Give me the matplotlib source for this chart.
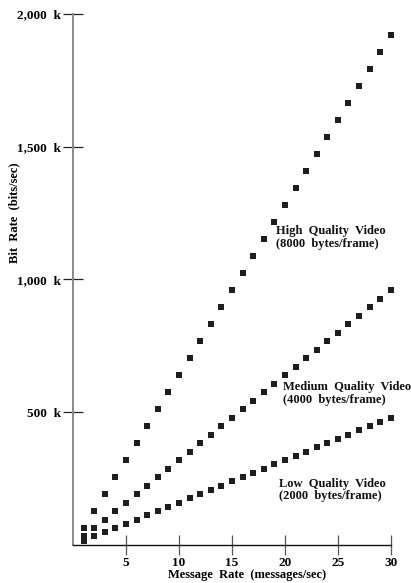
import matplotlib.pyplot as plt
from matplotlib.ticker import FuncFormatter

# message rate (messages/sec)
rate = [1, 2, 3, 4, 5, 6, 7, 8, 9, 10, 11, 12, 13, 14, 15,
        16, 17, 18, 19, 20, 21, 22, 23, 24, 25, 26, 27, 28, 29, 30]

# bit rate in kbits/sec
high_kbps = [64, 128, 192, 256, 320, 384, 448, 512, 576, 640,
             704, 768, 832, 896, 960, 1024, 1088, 1152, 1216, 1280,
             1344, 1408, 1472, 1536, 1600, 1664, 1728, 1792, 1856, 1920]
medium_kbps = [32, 64, 96, 128, 160, 192, 224, 256, 288, 320,
               352, 384, 416, 448, 480, 512, 544, 576, 608, 640,
               672, 704, 736, 768, 800, 832, 864, 896, 928, 960]
low_kbps = [16, 32, 48, 64, 80, 96, 112, 128, 144, 160,
            176, 192, 208, 224, 240, 256, 272, 288, 304, 320,
            336, 352, 368, 384, 400, 416, 432, 448, 464, 480]

labels = ["High  Quality  Video\n(8000  bytes/frame)",
          "Medium  Quality  Video\n(4000  bytes/frame)",
          "Low  Quality  Video\n(2000  bytes/frame)"]
label_pos = [(19.2, 1158), (19.8, 571), (19.4, 207)]

x_ticks = [5, 10, 15, 20, 25, 30]
y_ticks = [500, 1000, 1500, 2000]

plt.rcParams["font.family"] = ["Liberation Serif", "DejaVu Serif"]
plt.rcParams["font.weight"] = "bold"

fig = plt.figure(figsize=(4.11, 5.83), dpi=100)
ax = fig.add_axes([0.1776, 0.0652, 0.7734, 0.9108])

mk = dict(marker="s", linestyle="none", markersize=4.3, color="#1e1e1e",
          markeredgewidth=0, clip_on=False)
for series in (high_kbps, medium_kbps, low_kbps):
    ax.plot(rate, series, **mk)

for txt, (tx, ty) in zip(labels, label_pos):
    ax.text(tx, ty, txt, fontsize=9, fontweight="bold", ha="left",
            va="center", linespacing=1.05, color="#111111")

ax.set_xlim(0, 30)
ax.set_ylim(0, 2000)
ax.set_xticks(x_ticks)
ax.set_yticks(y_ticks)
ax.yaxis.set_major_formatter(FuncFormatter(lambda v, p: f"{int(v):,}  k"))

for side in ("top", "right"):
    ax.spines[side].set_visible(False)
ax.spines["left"].set_color("#8a8a8a")
ax.spines["left"].set_linewidth(1.4)
ax.spines["bottom"].set_color("#111111")
ax.spines["bottom"].set_linewidth(1.0)

ax.tick_params(axis="y", direction="inout", length=15, width=0.9,
               color="#222222", labelsize=9.5, pad=1)
ax.tick_params(axis="x", direction="inout", length=14, width=0.9,
               color="#555555", labelsize=9.5, pad=2)

ax.set_xlabel("Message  Rate  (messages/sec)", fontsize=9, fontweight="bold")
ax.set_ylabel("Bit  Rate  (bits/sec)", fontsize=9, fontweight="bold")
ax.xaxis.set_label_coords(0.547, -0.045)
ax.yaxis.set_label_coords(-0.165, 0.625)

fig.savefig("out.png", dpi=100)
